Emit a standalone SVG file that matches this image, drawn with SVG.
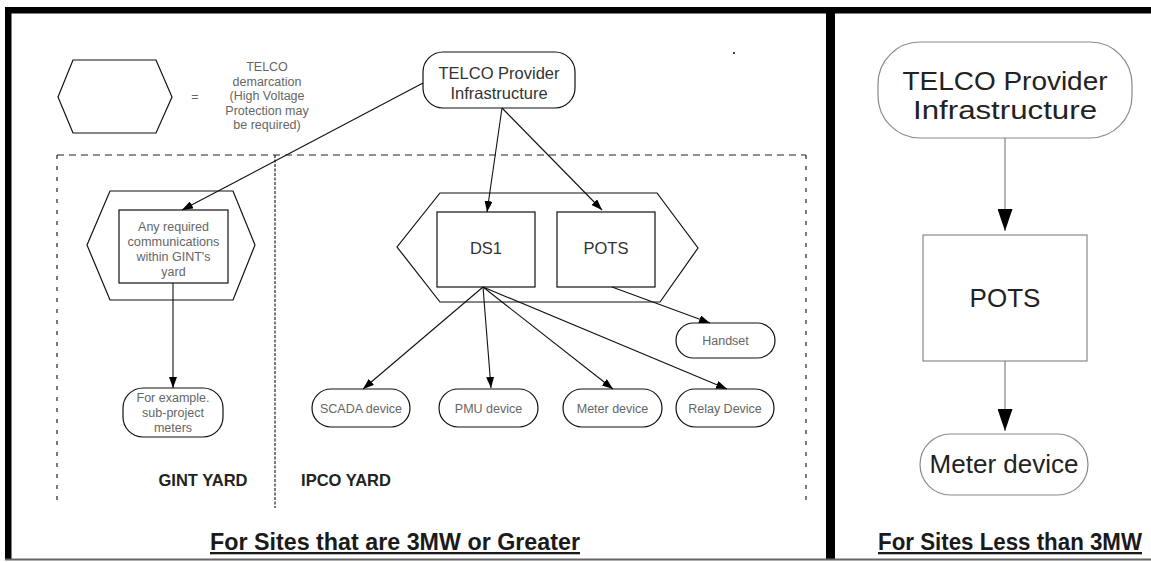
<svg xmlns="http://www.w3.org/2000/svg" width="1151" height="562" viewBox="0 0 1151 562">
<defs>
<style>
.n{fill:#fff;stroke:#111;stroke-width:1.2}
.nr{fill:#fff;stroke:#8a8a8a;stroke-width:1.2}
.c{fill:none;stroke:#111;stroke-width:1.1}
.cr{fill:none;stroke:#8a8a8a;stroke-width:1.3}
.t{font-family:"Liberation Sans",Arial,sans-serif;text-anchor:middle}
.g{fill:#666;font-size:12.5px}
.d{fill:#333;font-size:16.5px}
.big{fill:#222;font-size:26px}
.y{fill:#222;font-size:16.5px;font-weight:bold}
.f{fill:#1a1a1a;font-size:23px;font-weight:bold;text-decoration:underline}
.dash{fill:none;stroke:#222;stroke-width:1.2}
</style>
<marker id="a" viewBox="0 0 11 8" refX="11" refY="4" markerWidth="11" markerHeight="8" markerUnits="userSpaceOnUse" orient="auto"><path d="M0,0 L11,4 L0,8 z" fill="#000"/></marker>
<marker id="b" viewBox="0 0 22 15" refX="22" refY="7.5" markerWidth="22" markerHeight="15" markerUnits="userSpaceOnUse" orient="auto"><path d="M0,0 L22,7.5 L0,15 z" fill="#000"/></marker>
</defs>
<rect width="1151" height="562" fill="#fff"/>
<g id="frame">
<rect x="5" y="7" width="1146" height="6.5" fill="#000"/>
<rect x="5" y="7" width="6.5" height="553" fill="#000"/>
<rect x="826" y="7" width="9" height="553" fill="#000"/>
<rect x="5" y="558.5" width="1146" height="2" fill="#666"/>
<rect x="733" y="52" width="2" height="2" fill="#444"/>
</g>
<g id="yards">
<path class="dash" d="M57,155 H806" stroke-dasharray="7,5"/>
<path class="dash" d="M57,155 V500" stroke-dasharray="4,7"/>
<path class="dash" d="M806,155 V507" stroke-dasharray="4,7"/>
<path class="dash" d="M275,155 V508" stroke-width="1" stroke-dasharray="3,1.5"/>
<text class="t y" x="203" y="486">GINT YARD</text>
<text class="t y" x="346" y="486">IPCO YARD</text>
</g>
<g id="legend">
<polygon class="n" points="73,60 156,60 172,97 156,133 73,133 58,97"/>
<text class="t g" x="195" y="101">=</text>
<text class="t g" x="267" y="71" font-size="13">TELCO</text>
<text class="t g" x="267" y="85.5" font-size="13">demarcation</text>
<text class="t g" x="267" y="100" font-size="13">(High Voltage</text>
<text class="t g" x="267" y="114.5" font-size="13">Protection may</text>
<text class="t g" x="267" y="129" font-size="13">be required)</text>
</g>
<g id="telco-left">
<rect class="n" x="423" y="52" width="152" height="56" rx="20"/>
<text class="t d" x="499" y="79">TELCO Provider</text>
<text class="t d" x="499" y="99">Infrastructure</text>
</g>
<g id="gint-demarc">
<polygon class="n" points="110,191 233,191 255,245 233,300 110,300 87,245"/>
</g>
<g id="gint-comms">
<rect class="n" x="119" y="210" width="109" height="73"/>
<text class="t g" x="173.5" y="231">Any required</text>
<text class="t g" x="173.5" y="246" textLength="92" lengthAdjust="spacingAndGlyphs">communications</text>
<text class="t g" x="173.5" y="261">within GINT's</text>
<text class="t g" x="173.5" y="276">yard</text>
</g>
<g id="gint-meters">
<rect class="n" x="123" y="388" width="100" height="49" rx="20"/>
<text class="t g" x="173" y="402">For example.</text>
<text class="t g" x="173" y="417">sub-project</text>
<text class="t g" x="173" y="432">meters</text>
</g>
<g id="ipco-demarc">
<polygon class="n" points="440,193 657,193 698,248 660,302 440,302 397,247"/>
</g>
<g id="ds1">
<rect class="n" x="437" y="212" width="98" height="75"/>
<text class="t d" x="486" y="254">DS1</text>
</g>
<g id="pots">
<rect class="n" x="557" y="212" width="98" height="75"/>
<text class="t d" x="606" y="254">POTS</text>
</g>
<g id="handset">
<rect class="n" x="676" y="323" width="99" height="35" rx="17.5"/>
<text class="t g" x="725.5" y="345" font-size="13">Handset</text>
</g>
<g id="scada">
<rect class="n" x="312" y="389" width="98" height="38" rx="19"/>
<text class="t g" x="361" y="413" font-size="13">SCADA device</text>
</g>
<g id="pmu">
<rect class="n" x="439" y="389" width="99" height="38" rx="19"/>
<text class="t g" x="488.5" y="413" font-size="13">PMU device</text>
</g>
<g id="meter">
<rect class="n" x="563" y="389" width="99" height="38" rx="19"/>
<text class="t g" x="612.5" y="413" font-size="13">Meter device</text>
</g>
<g id="relay">
<rect class="n" x="676" y="389" width="98" height="38" rx="19"/>
<text class="t g" x="725" y="413" font-size="13">Relay Device</text>
</g>
<g id="telco-right">
<rect class="nr" x="878" y="42" width="254" height="96" rx="42"/>
<text class="t big" x="1005" y="90" textLength="205" lengthAdjust="spacingAndGlyphs">TELCO Provider</text>
<text class="t big" x="1005" y="119" textLength="184" lengthAdjust="spacingAndGlyphs">Infrastructure</text>
</g>
<g id="pots-right">
<rect class="nr" x="923" y="235" width="164" height="126"/>
<text class="t big" x="1005" y="307">POTS</text>
</g>
<g id="meter-right">
<rect class="nr" x="920" y="434" width="168" height="61" rx="30.5"/>
<text class="t big" x="1004" y="473" font-size="22.5">Meter device</text>
</g>
<g id="connectors">
<path class="c" d="M423,83 L182,210" marker-end="url(#a)"/>
<path class="c" d="M502,108 L487,212" marker-end="url(#a)"/>
<path class="c" d="M502,108 L602,210" marker-end="url(#a)"/>
<path class="c" d="M612,287 L710,323" marker-end="url(#a)"/>
<path class="c" d="M483,287 L363,389" marker-end="url(#a)"/>
<path class="c" d="M483,287 L491,388" marker-end="url(#a)"/>
<path class="c" d="M483,287 L613,389" marker-end="url(#a)"/>
<path class="c" d="M483,287 L727,389" marker-end="url(#a)"/>
<path class="c" d="M173,283 L173,388" marker-end="url(#a)"/>
<path class="cr" d="M1005,138 L1005,231" marker-end="url(#b)"/>
<path class="cr" d="M1005,361 L1005,431" marker-end="url(#b)"/>
</g>
<g id="footers">
<text class="t f" x="395" y="550" textLength="370" lengthAdjust="spacingAndGlyphs">For Sites that are 3MW or Greater</text>
<text class="t f" x="1010" y="550" textLength="264" lengthAdjust="spacingAndGlyphs">For Sites Less than 3MW</text>
</g>
</svg>
